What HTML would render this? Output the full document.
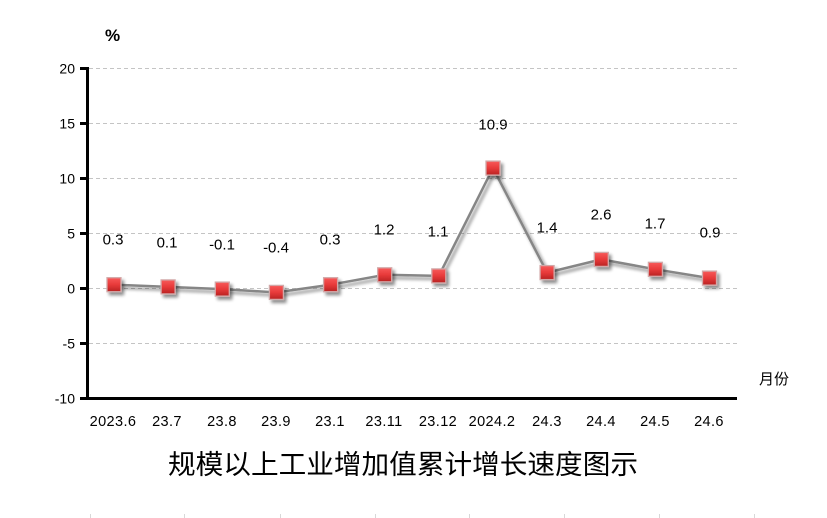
<!DOCTYPE html>
<html><head><meta charset="utf-8"><style>
html,body{margin:0;padding:0;background:#fff;}
svg{display:block;}
</style></head><body>
<svg width="827" height="518" viewBox="0 0 827 518" xmlns="http://www.w3.org/2000/svg">
<defs>
<linearGradient id="mg" x1="0" y1="0" x2="0" y2="1">
<stop offset="0" stop-color="#f85a5a"/>
<stop offset="0.5" stop-color="#e83a3a"/>
<stop offset="1" stop-color="#b82222"/>
</linearGradient>
<filter id="sh" x="-50%" y="-50%" width="200%" height="200%">
<feGaussianBlur in="SourceAlpha" stdDeviation="1.6"/>
<feOffset dx="2.5" dy="3" result="o"/>
<feComponentTransfer><feFuncA type="linear" slope="0.45"/></feComponentTransfer>
<feMerge><feMergeNode/><feMergeNode in="SourceGraphic"/></feMerge>
</filter>
</defs>
<rect width="827" height="518" fill="#fff"/>
<!-- gridlines -->
<g stroke="#c4c4c4" stroke-width="1" stroke-dasharray="4,3">
<line x1="89" y1="68.5" x2="737" y2="68.5"/>
<line x1="89" y1="123.5" x2="737" y2="123.5"/>
<line x1="89" y1="178.5" x2="737" y2="178.5"/>
<line x1="89" y1="233.5" x2="737" y2="233.5"/>
<line x1="89" y1="288.5" x2="737" y2="288.5"/>
<line x1="89" y1="343.5" x2="737" y2="343.5"/>
</g>
<!-- axes -->
<line x1="87.5" y1="67" x2="87.5" y2="399" stroke="#000" stroke-width="3"/>
<line x1="86" y1="398.5" x2="737" y2="398.5" stroke="#000" stroke-width="3"/>
<g stroke="#000" stroke-width="3">
<line x1="80" y1="68.5" x2="88" y2="68.5"/>
<line x1="80" y1="123.5" x2="88" y2="123.5"/>
<line x1="80" y1="178.5" x2="88" y2="178.5"/>
<line x1="80" y1="233.5" x2="88" y2="233.5"/>
<line x1="80" y1="288.5" x2="88" y2="288.5"/>
<line x1="80" y1="343.5" x2="88" y2="343.5"/>
<line x1="80" y1="398.5" x2="88" y2="398.5"/>
</g>
<!-- y labels -->
<g font-family="Liberation Sans, sans-serif" font-size="14" fill="#000" text-anchor="end">
<text x="75" y="73.5">20</text>
<text x="75" y="128.5">15</text>
<text x="75" y="183.5">10</text>
<text x="75" y="238.5">5</text>
<text x="75" y="293.5">0</text>
<text x="75" y="348.5">-5</text>
<text x="75" y="403.5">-10</text>
</g>
<text x="105" y="41" font-family="Liberation Sans, sans-serif" font-size="17" font-weight="bold">%</text>
<text x="759" y="384" font-family="Liberation Sans, 'Noto Sans CJK SC', sans-serif" font-size="15">月份</text>
<!-- x labels -->
<g font-family="Liberation Sans, sans-serif" font-size="14.5" letter-spacing="0.4" fill="#000" text-anchor="middle">
<text x="113" y="426">2023.6</text>
<text x="167" y="426">23.7</text>
<text x="222" y="426">23.8</text>
<text x="276" y="426">23.9</text>
<text x="330" y="426">23.1</text>
<text x="384" y="426">23.11</text>
<text x="438" y="426">23.12</text>
<text x="492" y="426">2024.2</text>
<text x="547" y="426">24.3</text>
<text x="601" y="426">24.4</text>
<text x="655" y="426">24.5</text>
<text x="709" y="426">24.6</text>
</g>
<!-- line -->
<polyline filter="url(#sh)" fill="none" stroke="#868686" stroke-width="2.5" stroke-linejoin="round"
points="114,284.7 168.1,286.9 222.3,289.1 276.4,292.4 330.6,284.7 384.7,274.8 438.8,275.9 493,168.1 547.1,272.6 601.3,259.4 655.4,269.3 709.5,278.1"/>
<!-- markers -->
<g filter="url(#sh)" fill="url(#mg)" stroke="#d2a8a8" stroke-width="1.3">
<rect x="107" y="277.7" width="14" height="14"/>
<rect x="161.1" y="279.9" width="14" height="14"/>
<rect x="215.3" y="282.1" width="14" height="14"/>
<rect x="269.4" y="285.4" width="14" height="14"/>
<rect x="323.6" y="277.7" width="14" height="14"/>
<rect x="377.7" y="267.8" width="14" height="14"/>
<rect x="431.8" y="268.9" width="14" height="14"/>
<rect x="486" y="161.1" width="14" height="14"/>
<rect x="540.1" y="265.6" width="14" height="14"/>
<rect x="594.3" y="252.4" width="14" height="14"/>
<rect x="648.4" y="262.3" width="14" height="14"/>
<rect x="702.5" y="271.1" width="14" height="14"/>
</g>
<!-- data labels -->
<g font-family="Liberation Sans, sans-serif" font-size="15" fill="#000" text-anchor="middle">
<text x="113" y="244.5">0.3</text>
<text x="167" y="247.5">0.1</text>
<text x="222" y="249.5">-0.1</text>
<text x="276" y="252.5">-0.4</text>
<text x="330" y="244.5">0.3</text>
<text x="384" y="234.5">1.2</text>
<text x="438" y="236.5">1.1</text>
<text x="493" y="129.5">10.9</text>
<text x="547" y="232.5">1.4</text>
<text x="601" y="219.5">2.6</text>
<text x="655" y="228.5">1.7</text>
<text x="710" y="237.5">0.9</text>
</g>
<!-- title -->
<text x="168" y="474" font-family="'Noto Sans CJK SC','WenQuanYi Zen Hei',sans-serif" font-size="27" textLength="470" lengthAdjust="spacingAndGlyphs" fill="#000">规模以上工业增加值累计增长速度图示</text>
<!-- faint bottom marks -->
<g stroke="#d8d8d8" stroke-width="1">
<line x1="90.5" y1="514" x2="90.5" y2="518"/>
<line x1="184.5" y1="514" x2="184.5" y2="518"/>
<line x1="280.5" y1="514" x2="280.5" y2="518"/>
<line x1="375.5" y1="514" x2="375.5" y2="518"/>
<line x1="469.5" y1="514" x2="469.5" y2="518"/>
<line x1="564.5" y1="514" x2="564.5" y2="518"/>
<line x1="659.5" y1="514" x2="659.5" y2="518"/>
<line x1="754.5" y1="514" x2="754.5" y2="518"/>
</g>
</svg>
</body></html>
